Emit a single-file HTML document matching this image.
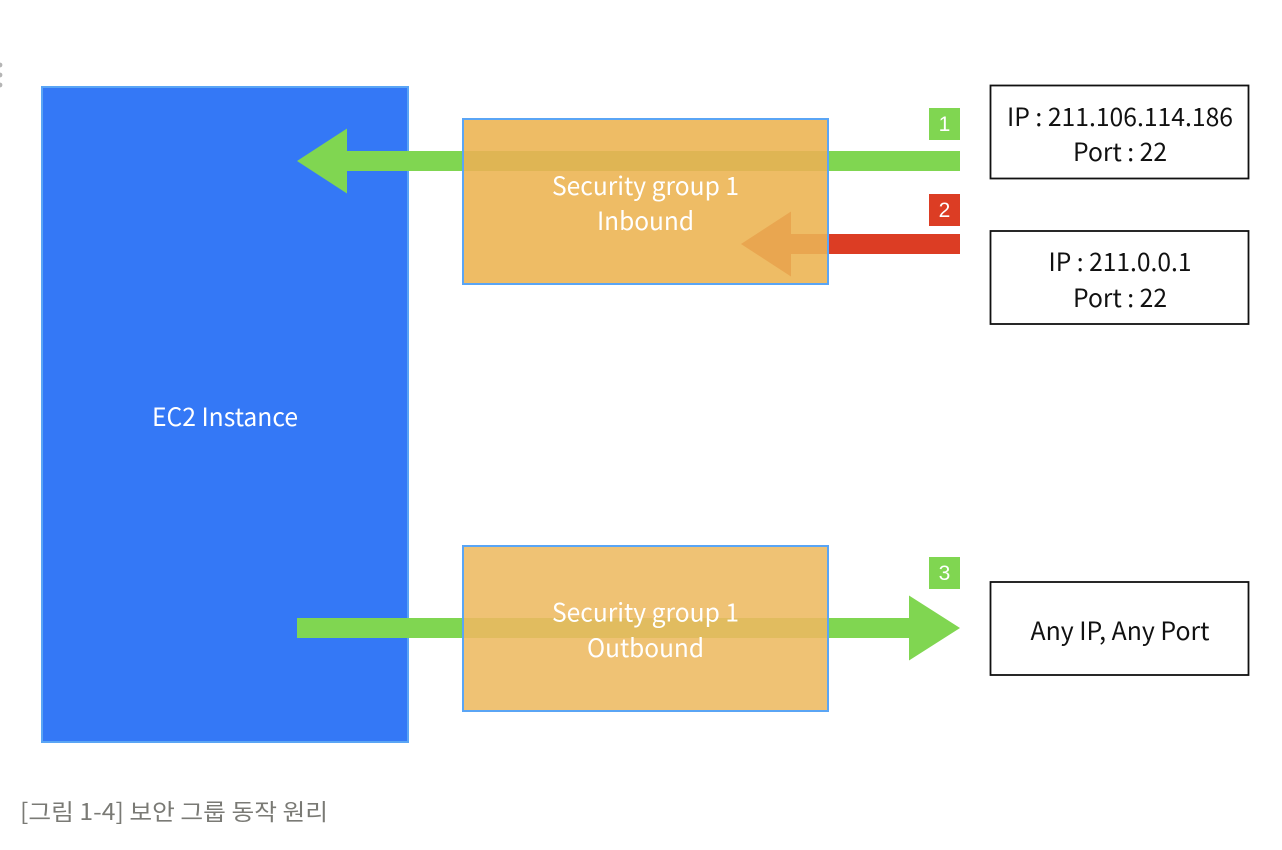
<!DOCTYPE html>
<html>
<head>
<meta charset="utf-8">
<style>
html,body{margin:0;padding:0;background:#fff;width:1282px;height:850px;overflow:hidden}
svg{display:block}
text{font-family:"Noto Sans CJK KR","Liberation Sans",sans-serif}
text.h{font-family:"Liberation Sans",sans-serif}
</style>
</head>
<body>
<svg width="1282" height="850" viewBox="0 0 1282 850" xmlns="http://www.w3.org/2000/svg">
<rect width="1282" height="850" fill="#fff"/>
<!-- side dots -->
<circle cx="0" cy="65" r="2.4" fill="#b5b5b5"/>
<circle cx="0" cy="75" r="2.4" fill="#b5b5b5"/>
<circle cx="0" cy="85" r="2.4" fill="#b5b5b5"/>
<!-- EC2 -->
<rect x="42" y="87" width="366" height="655" fill="#3478f6" stroke="#5aa5f5" stroke-width="2"/>
<text x="225" y="426" fill="#fff" font-size="25" text-anchor="middle" textLength="146" lengthAdjust="spacingAndGlyphs">EC2 Instance</text>
<!-- Arrows -->
<polygon points="960,151 347,151 347,128.500 297,161 347,193.500 347,171 960,171" fill="#80d651"/>
<polygon points="960,234 791,234 791,211.500 741,244 791,276.500 791,254 960,254" fill="#dc3d24"/>
<polygon points="297,618 909,618 909,595.500 960,628 909,660.500 909,638 297,638" fill="#80d651"/>
<!-- Security group boxes -->
<rect x="463" y="119" width="365" height="165" fill="#eebc65" stroke="#5aa5f5" stroke-width="2"/>
<rect x="464" y="151" width="363" height="20" fill="#dfb554"/>
<polygon points="827,234 791,234 791,211.500 741,244 791,276.500 791,254 827,254" fill="#e9a650"/>
<rect x="463" y="546" width="365" height="165" fill="#efc274" stroke="#5aa5f5" stroke-width="2"/>
<rect x="464" y="618" width="363" height="20" fill="#e1bc5f"/>
<text x="645.500" y="195" fill="#fff" font-size="25" text-anchor="middle" textLength="187" lengthAdjust="spacingAndGlyphs">Security group 1</text>
<text x="645.500" y="230" fill="#fff" font-size="25" text-anchor="middle" textLength="97" lengthAdjust="spacingAndGlyphs">Inbound</text>
<text x="645.500" y="621.500" fill="#fff" font-size="25" text-anchor="middle" textLength="187" lengthAdjust="spacingAndGlyphs">Security group 1</text>
<text x="645.500" y="657" fill="#fff" font-size="25" text-anchor="middle" textLength="117" lengthAdjust="spacingAndGlyphs">Outbound</text>
<!-- Number badges -->
<rect x="929" y="108" width="31" height="32" fill="#80d651"/>
<text class="h" x="944.500" y="131" fill="#fff" font-size="21" text-anchor="middle">1</text>
<rect x="929" y="194" width="31" height="32" fill="#dc3d24"/>
<text class="h" x="944.500" y="217" fill="#fff" font-size="21" text-anchor="middle">2</text>
<rect x="929" y="557" width="31" height="32" fill="#80d651"/>
<text class="h" x="944.500" y="580" fill="#fff" font-size="21" text-anchor="middle">3</text>
<!-- Right boxes -->
<rect x="990.500" y="85.500" width="258" height="93" fill="#fff" stroke="#111" stroke-width="1.8"/>
<text x="1120" y="126" fill="#111" font-size="25" text-anchor="middle" textLength="226" lengthAdjust="spacingAndGlyphs">IP : 211.106.114.186</text>
<text x="1120" y="161" fill="#111" font-size="25" text-anchor="middle" textLength="94" lengthAdjust="spacingAndGlyphs">Port : 22</text>
<rect x="990.500" y="231" width="258" height="93" fill="#fff" stroke="#111" stroke-width="1.8"/>
<text x="1120" y="271" fill="#111" font-size="25" text-anchor="middle" textLength="143" lengthAdjust="spacingAndGlyphs">IP : 211.0.0.1</text>
<text x="1120" y="307" fill="#111" font-size="25" text-anchor="middle" textLength="94" lengthAdjust="spacingAndGlyphs">Port : 22</text>
<rect x="990.500" y="582" width="258" height="93" fill="#fff" stroke="#111" stroke-width="1.8"/>
<text x="1120" y="640" fill="#111" font-size="25" text-anchor="middle" textLength="179" lengthAdjust="spacingAndGlyphs">Any IP, Any Port</text>
<!-- Caption -->
<text x="20" y="820" fill="#7a7a75" font-size="23" textLength="308" lengthAdjust="spacingAndGlyphs">[그림 1-4] 보안 그룹 동작 원리</text>
</svg>
</body>
</html>
